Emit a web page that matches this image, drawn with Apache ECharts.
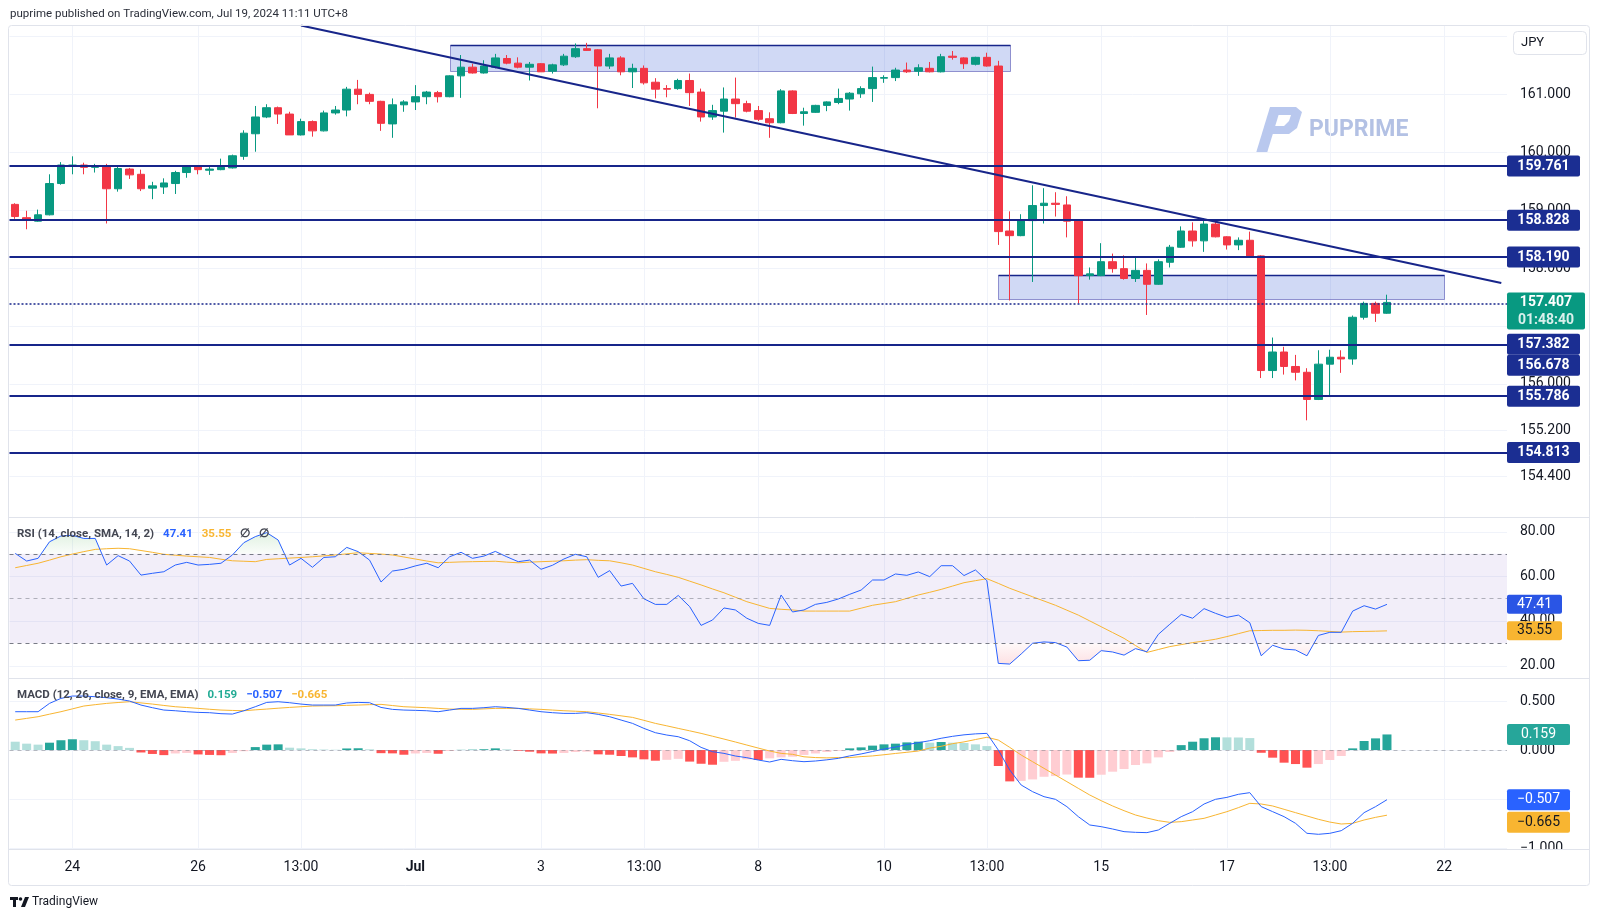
<!DOCTYPE html>
<html><head><meta charset="utf-8">
<script src="https://cdn.jsdelivr.net/npm/echarts@6/dist/echarts.min.js"></script>
<style>html,body{margin:0;padding:0;background:#fff;}#c{width:1600px;height:919px;}</style>
</head><body><div id="c"></div>
<script>
// ---------------- DATA ----------------
const H6 = ['01','05','09','13','17','21'];
const H5 = ['05','09','13','17','21'];
const sessions = [
  ['2024-06-21',['09','13','17','21']],['2024-06-22',['01']],
  ['2024-06-24',H5],['2024-06-25',H6],['2024-06-26',H6],['2024-06-27',H6],['2024-06-28',H6],['2024-06-29',['01']],
  ['2024-07-01',H5],['2024-07-02',H6],['2024-07-03',H6],['2024-07-04',H6],['2024-07-05',H6],['2024-07-06',['01']],
  ['2024-07-08',H5],['2024-07-09',H6],['2024-07-10',H6],['2024-07-11',H6],['2024-07-12',H6],['2024-07-13',['01']],
  ['2024-07-15',H5],['2024-07-16',H6],['2024-07-17',H6],['2024-07-18',H6],['2024-07-19',H6],['2024-07-20',['01']],
  ['2024-07-22',H5],['2024-07-23',['01']]
];
const categories = [];
sessions.forEach(s => s[1].forEach(h => categories.push(s[0] + ' ' + h + ':00')));

const tickCats = ['2024-06-24 05:00','2024-06-26 01:00','2024-06-27 13:00','2024-07-01 05:00','2024-07-03 01:00','2024-07-04 13:00','2024-07-08 05:00','2024-07-10 01:00','2024-07-11 13:00','2024-07-15 05:00','2024-07-17 01:00','2024-07-18 13:00','2024-07-22 05:00'];
const tickTexts = ['24','26','13:00','Jul','3','13:00','8','10','13:00','15','17','13:00','22'];

const opens = [159.10,158.87,158.81,158.92,159.46,159.76,159.78,159.74,159.77,159.37,159.71,159.62,159.38,159.40,159.46,159.65,159.76,159.69,159.70,159.73,
159.93,160.32,160.61,160.77,160.66,160.30,160.53,160.37,160.68,160.73,161.09,161.00,160.88,160.49,160.82,160.87,160.96,161.03,160.96,161.32,
161.47,161.37,161.47,161.62,161.54,161.47,161.53,161.40,161.51,161.65,161.79,161.77,161.49,161.63,161.39,161.45,161.21,161.10,161.10,161.24,
161.04,160.61,160.71,160.92,160.84,160.72,160.58,160.51,161.06,160.67,160.69,160.81,160.86,160.92,161.01,161.10,161.28,161.29,161.42,161.40,
161.45,161.39,161.66,161.63,161.52,161.64,161.49,158.64,158.56,158.82,159.08,159.12,159.09,158.83,157.87,157.87,158.11,157.99,157.82,157.96,
157.72,158.10,158.36,158.64,158.47,158.76,158.54,158.40,158.48,158.21,156.23,156.55,156.30,156.20,155.73,156.34,156.46,156.43,157.15,157.39,157.22];
const highs = [159.12,158.99,159.01,159.62,159.83,159.93,159.82,159.80,159.80,159.76,159.73,159.70,159.49,159.55,159.68,159.78,159.78,159.76,159.89,159.96,
160.38,160.80,160.83,160.79,160.70,160.58,160.55,160.72,160.80,161.13,161.25,161.03,160.89,160.93,160.90,161.16,161.06,161.06,161.33,161.68,
161.53,161.59,161.70,161.68,161.64,161.56,161.54,161.53,161.70,161.88,161.89,161.78,161.70,161.66,161.53,161.50,161.28,161.16,161.27,161.36,
161.10,160.82,161.12,161.29,160.89,160.80,160.69,161.09,161.07,160.77,160.82,160.88,161.10,161.04,161.14,161.48,161.33,161.46,161.55,161.52,
161.56,161.70,161.75,161.64,161.65,161.72,161.58,158.98,158.93,159.43,159.38,159.31,159.24,158.84,158.01,158.43,158.25,158.22,158.18,158.08,
158.15,158.40,158.72,158.79,158.86,158.82,158.55,158.53,158.63,158.22,156.80,156.64,156.50,156.27,156.58,156.59,156.58,157.18,157.42,157.42,157.54];
const lows = [158.85,158.67,158.80,158.91,159.44,159.62,159.62,159.65,158.77,159.32,159.54,159.33,159.19,159.28,159.28,159.56,159.62,159.61,159.69,159.72,
159.87,160.01,160.59,160.49,160.30,160.29,160.27,160.36,160.65,160.62,160.83,160.83,160.37,160.25,160.70,160.73,160.83,160.86,160.95,160.94,
161.36,161.36,161.45,161.52,161.45,161.24,161.39,161.36,161.49,161.63,161.75,160.76,161.44,161.33,161.11,161.17,160.93,160.95,161.08,160.80,
160.53,160.56,160.34,160.60,160.69,160.54,160.25,160.50,160.66,160.46,160.68,160.71,160.83,160.72,160.94,160.87,161.20,161.23,161.37,161.32,
161.38,161.38,161.60,161.44,161.50,161.48,158.40,157.44,158.55,157.76,158.77,158.89,158.53,157.39,157.80,157.86,157.92,157.80,157.76,157.19,
157.71,158.01,158.35,158.37,158.28,158.53,158.32,158.31,158.19,156.10,156.10,156.16,156.06,155.37,155.72,155.79,156.19,156.33,157.11,157.07,157.21];
const closes = [158.89,158.83,158.92,159.46,159.78,159.78,159.74,159.77,159.37,159.72,159.61,159.37,159.42,159.47,159.65,159.75,159.70,159.71,159.74,159.94,
160.33,160.61,160.77,160.66,160.30,160.53,160.37,160.68,160.73,161.09,161.00,160.88,160.50,160.82,160.87,160.96,161.04,160.96,161.32,161.47,
161.37,161.49,161.63,161.54,161.47,161.52,161.39,161.51,161.66,161.79,161.76,161.49,161.63,161.39,161.45,161.20,161.09,161.09,161.24,161.03,
160.61,160.72,160.92,160.84,160.71,160.57,160.51,161.06,160.67,160.70,160.81,160.87,160.93,161.02,161.10,161.29,161.29,161.42,161.39,161.46,
161.39,161.65,161.64,161.53,161.64,161.49,158.63,158.56,158.83,159.08,159.12,159.10,158.81,157.87,157.90,158.11,157.99,157.82,157.96,157.72,
158.11,158.36,158.64,158.47,158.76,158.54,158.40,158.48,158.21,156.23,156.55,156.30,156.20,155.73,156.34,156.46,156.43,157.15,157.39,157.22,157.407];

const rsi = [70.2,66.8,68.0,75.4,78.0,78.3,76.9,76.9,65.0,69.2,66.8,60.5,61.3,62.0,65.0,66.2,65.0,65.3,65.8,69.5,
75.0,77.7,79.5,76.2,65.0,68.0,64.0,68.4,68.7,72.9,71.0,67.2,57.4,62.3,63.1,64.6,65.8,63.8,68.7,70.7,
68.0,69.0,71.1,68.7,66.5,67.2,63.1,64.9,67.7,69.8,68.7,59.5,62.5,55.6,56.8,49.9,47.4,47.4,51.4,46.4,
38.0,40.4,45.8,44.9,41.2,38.9,38.0,51.6,44.0,44.9,47.4,48.3,49.8,51.9,53.8,58.3,58.3,61.0,60.4,61.9,
59.8,64.7,64.7,60.3,62.8,58.0,21.0,20.7,25.2,30.0,30.6,30.3,28.3,22.2,22.4,26.7,26.1,24.7,27.6,26.2,
34.0,38.5,42.9,41.2,45.5,43.4,41.6,42.6,39.2,24.4,29.1,27.4,27.0,24.4,33.5,34.9,34.9,44.4,46.8,45.3,47.41];
const rsiMA = [63.8,64.8,65.8,67.2,68.7,69.9,71.0,72.0,72.3,72.5,72.3,71.5,70.7,69.8,69.4,69.0,68.7,68.4,67.6,66.9,
66.7,66.5,67.5,67.8,68.1,68.4,68.7,69.1,69.5,70.0,70.5,70.2,69.9,69.5,68.6,67.7,66.8,66.0,66.2,66.4,
66.5,66.6,66.7,66.3,66.0,66.3,66.5,66.7,66.9,67.2,67.4,67.1,66.9,66.0,65.0,63.5,62.0,60.8,59.5,57.8,
56.1,54.3,52.6,50.6,48.6,47.1,45.6,45.2,44.9,44.4,44.4,44.4,44.4,44.4,45.7,47.0,47.8,48.6,50.1,51.6,
52.8,54.1,55.6,57.1,58.0,58.9,56.8,54.6,52.7,50.8,48.9,47.0,44.8,42.6,40.0,37.4,34.8,32.2,29.0,25.9,
27.2,28.5,29.4,30.3,31.0,31.8,33.0,34.3,35.6,35.7,35.8,35.8,35.9,35.8,35.6,35.3,35.0,35.2,35.3,35.4,35.55];

const macd = [0.391,0.391,0.391,0.476,0.527,0.551,0.551,0.544,0.534,0.520,0.500,0.459,0.432,0.408,0.401,0.391,0.384,0.381,0.371,0.367,
0.401,0.442,0.486,0.493,0.483,0.469,0.459,0.459,0.459,0.480,0.486,0.483,0.435,0.415,0.408,0.405,0.401,0.391,0.408,0.425,
0.425,0.432,0.442,0.435,0.425,0.408,0.391,0.381,0.374,0.374,0.381,0.364,0.340,0.306,0.272,0.221,0.177,0.153,0.136,0.095,
0.027,-0.017,-0.034,-0.061,-0.078,-0.102,-0.122,-0.095,-0.109,-0.119,-0.112,-0.100,-0.085,-0.060,-0.040,-0.015,0.010,0.030,0.055,0.075,
0.095,0.120,0.140,0.155,0.165,0.170,0.000,-0.204,-0.357,-0.425,-0.476,-0.503,-0.578,-0.680,-0.765,-0.782,-0.806,-0.833,-0.840,-0.843,
-0.816,-0.748,-0.680,-0.629,-0.551,-0.503,-0.483,-0.452,-0.435,-0.578,-0.629,-0.680,-0.748,-0.850,-0.860,-0.850,-0.823,-0.748,-0.639,-0.578,-0.507];
const signal = [0.306,0.323,0.340,0.366,0.391,0.420,0.449,0.463,0.476,0.485,0.493,0.481,0.469,0.455,0.442,0.434,0.425,0.416,0.408,0.404,
0.401,0.410,0.418,0.427,0.435,0.442,0.449,0.451,0.452,0.456,0.459,0.463,0.466,0.454,0.442,0.437,0.432,0.425,0.418,0.416,
0.415,0.420,0.425,0.425,0.425,0.420,0.415,0.408,0.401,0.396,0.391,0.378,0.364,0.349,0.333,0.303,0.272,0.247,0.221,0.196,
0.170,0.141,0.112,0.082,0.051,0.020,-0.010,-0.034,-0.044,-0.069,-0.077,-0.080,-0.077,-0.077,-0.067,-0.060,-0.048,-0.035,-0.023,-0.010,
0.020,0.038,0.065,0.083,0.107,0.130,0.102,0.027,-0.051,-0.119,-0.187,-0.255,-0.323,-0.391,-0.459,-0.517,-0.571,-0.619,-0.663,-0.694,
-0.721,-0.738,-0.731,-0.714,-0.697,-0.663,-0.629,-0.588,-0.544,-0.551,-0.571,-0.605,-0.639,-0.673,-0.707,-0.735,-0.755,-0.748,-0.714,-0.687,-0.665];
const hist = [0.085,0.065,0.055,0.075,0.100,0.110,0.100,0.090,0.055,0.040,0.022,-0.025,-0.040,-0.052,-0.035,-0.030,-0.045,-0.050,-0.053,-0.030,
-0.012,0.030,0.055,0.058,0.024,0.017,0.008,0.005,0.003,0.016,0.018,0.007,-0.032,-0.034,-0.048,-0.035,-0.030,-0.038,-0.010,0.002,
0.004,0.008,0.017,0.007,-0.007,-0.017,-0.034,-0.036,-0.030,-0.020,-0.017,-0.044,-0.048,-0.061,-0.075,-0.095,-0.109,-0.100,-0.090,-0.118,
-0.140,-0.150,-0.120,-0.110,-0.095,-0.102,-0.085,-0.075,-0.068,-0.050,-0.035,-0.020,-0.008,0.017,0.027,0.045,0.058,0.065,0.078,0.085,
0.075,0.082,0.075,0.072,0.058,0.040,-0.163,-0.320,-0.315,-0.300,-0.273,-0.266,-0.250,-0.282,-0.283,-0.252,-0.221,-0.194,-0.153,-0.136,
-0.075,-0.020,0.050,0.085,0.120,0.130,0.129,0.128,0.122,-0.028,-0.078,-0.129,-0.143,-0.180,-0.143,-0.102,-0.061,0.017,0.092,0.119,0.159];

const levelLines = [159.761, 158.828, 158.190, 156.678, 155.786, 154.813];
const dottedLevel = 157.382;
const levelTags = [159.761, 158.828, 158.190, 157.382, 156.678, 155.786, 154.813];
const countdown = '01:48:40';
const trendStart = [25, 162.19], trendEnd = [130, 157.742];
const boxes = [[38, 161.846, 87, 161.390], [86, 157.873, 125, 157.452]];
const priceTicks = [161, 160, 159, 158, 157, 156, 155.2, 154.4];
const priceGrid = [162, 161, 160, 159, 158, 157, 156, 155.2, 154.4];
const rsiTicks = [80, 60, 40, 20];
const macdTicks = [0.5, 0, -0.5, -1];

// ---------------- STYLE / LAYOUT ----------------
const FONT = 'Roboto, "Liberation Sans", sans-serif';
const UP = '#089981', DOWN = '#f23645', NAVY = '#17258a', TAGNAVY = '#1b2e92';
const BLUE = '#2962ff', ORANGE = '#f8b531';
const GRIDC = '#f0f3fa', BORDER = '#e0e3eb', TXT = '#131722';
const L = 9.5, W = 1497.5;
const last = a => a[a.length - 1];
const mfmt = (v, d) => (v < 0 ? '\u2212' : '') + Math.abs(v).toFixed(d);
const near = (list, v) => list.find(p => Math.abs(p - v) < 1e-4);

const chart = echarts.init(document.getElementById('c'), null, {renderer: 'canvas'});

function xAx(gi, showLabels) {
  return {
    type: 'category', gridIndex: gi, data: categories, boundaryGap: true,
    axisLine: {show: false}, axisTick: {show: false}, splitLine: {show: false},
    axisLabel: showLabels ? {
      show: true, color: TXT, fontSize: 14, fontFamily: FONT, margin: 11,
      interval: (idx) => tickCats.indexOf(categories[idx]) >= 0,
      formatter: (val) => { const k = tickCats.indexOf(val); const t = k >= 0 ? tickTexts[k] : ''; return t === 'Jul' ? '{b|Jul}' : t; },
      rich: {b: {fontWeight: 'bold', fontSize: 14, fontFamily: FONT, color: TXT}}
    } : {show: false}
  };
}
function yAx(gi, min, max, interval, labelFn) {
  return {
    type: 'value', gridIndex: gi, position: 'right', min, max, interval,
    axisLine: {show: false}, axisTick: {show: false}, splitLine: {show: false},
    axisLabel: labelFn ? {show: true, color: TXT, fontSize: 14, fontFamily: FONT, margin: 13, formatter: labelFn} : {show: false}
  };
}
function hLines(xi, yi, vals) {
  return {
    type: 'custom', xAxisIndex: xi, yAxisIndex: yi, silent: true, z: 0,
    data: vals.map(v => [0, v]),
    renderItem(params, api) {
      const cs = params.coordSys;
      const y = Math.round(api.coord([0, api.value(1)])[1]) + 0.5;
      return {type: 'line', shape: {x1: cs.x, y1: y, x2: cs.x + cs.width, y2: y}, style: {stroke: GRIDC, lineWidth: 1}};
    }
  };
}
function vLines() {
  return {
    type: 'custom', xAxisIndex: 0, yAxisIndex: 0, silent: true, z: 0, clip: false,
    data: tickCats.map(c => [c, 158]),
    renderItem(params, api) {
      const x = Math.round(api.coord([api.value(0), 158])[0]) + 0.5;
      return {type: 'line', shape: {x1: x, y1: 26, x2: x, y2: 849}, style: {stroke: GRIDC, lineWidth: 1}};
    }
  };
}
function boxSeries() {
  return {
    type: 'custom', xAxisIndex: 0, yAxisIndex: 0, silent: true, z: 2,
    encode: {x: [0, 2], y: [1, 3]},
    data: boxes,
    renderItem(params, api) {
      const p1 = api.coord([api.value(0), api.value(1)]);
      const p2 = api.coord([api.value(2), api.value(3)]);
      const x = Math.round(p1[0]) + 0.5, y = Math.round(p1[1]) + 0.5;
      const w = Math.round(p2[0] - p1[0]), h = Math.round(p2[1] - p1[1]);
      return {type: 'group', children: [
        {type: 'rect', shape: {x, y, width: w, height: h}, style: {fill: 'rgba(41,82,210,0.22)', stroke: 'rgba(95,95,185,0.65)', lineWidth: 1}},
        {type: 'line', shape: {x1: x, y1: y, x2: x + w, y2: y}, style: {stroke: NAVY, lineWidth: 1.5}}
      ]};
    }
  };
}
function tagSeries(xi, yi, tags) {
  return {
    type: 'custom', xAxisIndex: xi, yAxisIndex: yi, silent: true, z: 20, clip: false,
    data: tags.map(t => [0, t.value]),
    renderItem(params, api) {
      const t = tags[params.dataIndex];
      const cs = params.coordSys;
      const y0 = api.coord([0, api.value(1)])[1] + (t.dy || 0);
      const x0 = cs.x + cs.width;
      const up = t.up != null ? t.up : t.h / 2;
      const ch = [{type: 'rect', shape: {x: x0, y: y0 - up, width: t.w, height: t.h, r: 2}, style: {fill: t.bg}}];
      t.lines.forEach((ln, k) => ch.push({type: 'text', x: x0 + t.w / 2, y: y0 + k * (t.lh || 0),
        style: {text: ln, align: 'center', verticalAlign: 'middle', fill: (t.fg[k] || t.fg[0]), font: t.font}}));
      return {type: 'group', children: ch};
    }
  };
}

const tagShift = {157.382: 40.5, 156.678: 20.6};
const mainTags = levelTags.map(v => ({value: v, dy: tagShift[v] || 0, w: 73, h: 21, bg: TAGNAVY, fg: ['#ffffff'],
  font: 'bold 14px ' + FONT, lines: [v.toFixed(3)]}));
mainTags.push({value: last(closes), w: 78, h: 37, up: 10, lh: 18, bg: UP, fg: ['#ffffff', 'rgba(255,255,255,0.85)'],
  font: 'bold 14px ' + FONT, lines: [last(closes).toFixed(3), countdown]});
const rsiTags = [
  {value: last(rsi), w: 55, h: 19, bg: '#2a55e5', fg: ['#ffffff'], font: '14px ' + FONT, lines: [last(rsi).toFixed(2)]},
  {value: last(rsiMA), w: 55, h: 19, bg: ORANGE, fg: [TXT], font: '14px ' + FONT, lines: [last(rsiMA).toFixed(2)]}
];
const macdTags = [
  {value: last(hist), w: 63, h: 21, bg: '#26a69a', fg: ['#ffffff'], font: '14px ' + FONT, lines: [mfmt(last(hist), 3)]},
  {value: last(macd), w: 63, h: 21, bg: BLUE, fg: ['#ffffff'], font: '14px ' + FONT, lines: [mfmt(last(macd), 3)]},
  {value: last(signal), dy: 7, w: 63, h: 21, bg: ORANGE, fg: [TXT], font: '14px ' + FONT, lines: [mfmt(last(signal), 3)]}
];

const histColor = (i) => {
  const h = hist[i], p = i ? hist[i - 1] : h + 0.01;
  if (h >= 0) return h > p ? '#26a69a' : '#b2dfdb';
  return h < p ? '#ff5252' : '#ffcdd2';
};

const candleData = opens.map((o, i) => [o, closes[i], lows[i], highs[i]]);
const C = i => categories[i];

const option = {
  animation: false,
  backgroundColor: '#ffffff',
  textStyle: {fontFamily: FONT},
  grid: [
    {left: L, width: W, top: 25.5, height: 491.5, outerBoundsMode: 'none'},
    {left: L, width: W, top: 518.1, height: 158.7, outerBoundsMode: 'none'},
    {left: L, width: W, top: 518.1, height: 35.76, outerBoundsMode: 'none'},
    {left: L, width: W, top: 643.27, height: 33.53, outerBoundsMode: 'none'},
    {left: L, width: W, top: 678.5, height: 170.5, outerBoundsMode: 'none'}
  ],
  xAxis: [xAx(0, false), xAx(1, false), xAx(2, false), xAx(3, false), xAx(4, true)],
  yAxis: [
    yAx(0, 153.7, 162.19, 0.1, v => { const t = near(priceTicks, v); return t === undefined ? '' : t.toFixed(3); }),
    yAx(1, 15, 86, 5, v => { const t = near(rsiTicks, v); return t === undefined ? '' : t.toFixed(2); }),
    yAx(2, 70, 86, 2, null),
    yAx(3, 15, 30, 5, null),
    yAx(4, -1.01, 0.73, 0.01, v => { const t = near(macdTicks, v); return t === undefined ? '' : mfmt(t, 3); })
  ],
  title: [
    {text: '{t|RSI (14, close, SMA, 14, 2)}  {b|' + last(rsi).toFixed(2) + '}  {o|' + last(rsiMA).toFixed(2) + '}  {g|\u2205}  {g|\u2205}',
     left: 17, top: 525, padding: 0,
     textStyle: {rich: {t: {color: '#434651', fontSize: 11.5, fontFamily: FONT}, b: {color: BLUE, fontSize: 11.5, fontFamily: FONT},
       o: {color: ORANGE, fontSize: 11.5, fontFamily: FONT}, g: {color: '#434651', fontSize: 11.5, fontFamily: FONT}}}},
    {text: '{t|MACD (12, 26, close, 9, EMA, EMA)}  {h|' + mfmt(last(hist), 3) + '}  {b|' + mfmt(last(macd), 3) + '}  {o|' + mfmt(last(signal), 3) + '}',
     left: 17, top: 686, padding: 0,
     textStyle: {rich: {t: {color: '#434651', fontSize: 11.5, fontFamily: FONT}, h: {color: '#22ab94', fontSize: 11.5, fontFamily: FONT},
       b: {color: BLUE, fontSize: 11.5, fontFamily: FONT}, o: {color: ORANGE, fontSize: 11.5, fontFamily: FONT}}}}
  ],
  graphic: [
    {type: 'rect', shape: {x: 1508, y: 850, width: 81, height: 12}, style: {fill: '#ffffff'}, z: 100, silent: true},
    {type: 'rect', shape: {x: 8.5, y: 25.5, width: 1581, height: 860, r: 3}, style: {fill: 'none', stroke: BORDER, lineWidth: 1}, z: 101, silent: true},
    {type: 'line', shape: {x1: 8.5, y1: 517.5, x2: 1589.5, y2: 517.5}, style: {stroke: BORDER, lineWidth: 1}, z: 101, silent: true},
    {type: 'line', shape: {x1: 8.5, y1: 678.5, x2: 1589.5, y2: 678.5}, style: {stroke: BORDER, lineWidth: 1}, z: 101, silent: true},
    {type: 'line', shape: {x1: 8.5, y1: 849.5, x2: 1589.5, y2: 849.5}, style: {stroke: BORDER, lineWidth: 1}, z: 101, silent: true},
    {type: 'text', x: 10, y: 14, style: {text: 'puprime published on TradingView.com, Jul 19, 2024 11:11 UTC+8', fill: '#2a2e39', font: '11.5px ' + FONT, verticalAlign: 'middle'}},
    {type: 'rect', shape: {x: 1513.5, y: 31.5, width: 73, height: 23, r: 4}, style: {fill: '#ffffff', stroke: BORDER, lineWidth: 1}, z: 30},
    {type: 'text', x: 1521, y: 43, z: 31, style: {text: 'JPY', fill: TXT, font: '13px ' + FONT, verticalAlign: 'middle'}},
    {type: 'polygon', shape: {points: [[1256, 153], [1267, 153], [1281, 107], [1270, 107]]}, style: {fill: '#b9c8ee'}},
    {type: 'polygon', shape: {points: [[1274, 107], [1296, 107], [1302, 112], [1297, 128], [1289, 134], [1268, 134], [1271, 126], [1284, 126], [1289, 121], [1291, 115], [1272, 115]]}, style: {fill: '#b9c8ee'}},
    {type: 'text', x: 1309, y: 130, style: {text: 'PUPRIME', fill: '#b3c1e4', font: 'bold 23px ' + FONT, verticalAlign: 'middle'}},
    {type: 'rect', shape: {x: 10, y: 897, width: 8, height: 3}, style: {fill: '#131722'}},
    {type: 'rect', shape: {x: 13, y: 897, width: 3, height: 10}, style: {fill: '#131722'}},
    {type: 'circle', shape: {cx: 20.5, cy: 899, r: 1.8}, style: {fill: '#131722'}},
    {type: 'polygon', shape: {points: [[21, 907], [25, 897], [29, 897], [25, 907]]}, style: {fill: '#131722'}},
    {type: 'text', x: 32, y: 902, style: {text: 'TradingView', fill: TXT, font: '12px ' + FONT, verticalAlign: 'middle'}}
  ],
  series: [
    vLines(),
    hLines(0, 0, priceGrid),
    hLines(1, 1, rsiTicks),
    hLines(4, 4, macdTicks),
    boxSeries(),
    {
      type: 'candlestick', xAxisIndex: 0, yAxisIndex: 0, data: candleData, barWidth: 8, z: 3, silent: true,
      itemStyle: {color: UP, color0: DOWN, borderColor: UP, borderColor0: DOWN, borderWidth: 1},
      markLine: {
        silent: true, symbol: ['none', 'none'], label: {show: false},
        lineStyle: {color: NAVY, width: 2, type: 'solid'},
        data: levelLines.map(v => ({yAxis: v})).concat([
          {yAxis: dottedLevel, lineStyle: {color: NAVY, width: 1.5, type: [2, 2]}}
        ])
      }
    },
    {
      type: 'line', xAxisIndex: 0, yAxisIndex: 0, z: 6, silent: true, symbol: 'none',
      data: [[C(trendStart[0]), trendStart[1]], [C(trendEnd[0]), trendEnd[1]]],
      lineStyle: {color: NAVY, width: 2}
    },
    tagSeries(0, 0, mainTags),
    // RSI
    {
      type: 'line', xAxisIndex: 1, yAxisIndex: 1, data: rsi, symbol: 'none', z: 4, silent: true,
      lineStyle: {color: BLUE, width: 1},
      markArea: {silent: true, itemStyle: {color: 'rgba(126,87,194,0.1)'}, data: [[{yAxis: 70}, {yAxis: 30}]]},
      markLine: {
        silent: true, symbol: ['none', 'none'], label: {show: false},
        lineStyle: {color: '#787b86', width: 1, type: [4, 4]},
        data: [{yAxis: 70}, {yAxis: 50, lineStyle: {color: 'rgba(120,123,134,0.55)', type: [4, 4]}}, {yAxis: 30}]
      }
    },
    {type: 'line', xAxisIndex: 1, yAxisIndex: 1, data: rsiMA, symbol: 'none', z: 3, silent: true, lineStyle: {color: ORANGE, width: 1}},
    {
      type: 'line', xAxisIndex: 2, yAxisIndex: 2, data: rsi, symbol: 'none', z: 2, silent: true,
      lineStyle: {width: 0, opacity: 0},
      areaStyle: {origin: 'start', color: {type: 'linear', x: 0, y: 518, x2: 0, y2: 554, global: true,
        colorStops: [{offset: 0, color: 'rgba(76,175,80,0.38)'}, {offset: 1, color: 'rgba(76,175,80,0.04)'}]}}
    },
    {
      type: 'line', xAxisIndex: 3, yAxisIndex: 3, data: rsi, symbol: 'none', z: 2, silent: true,
      lineStyle: {width: 0, opacity: 0},
      areaStyle: {origin: 'end', color: {type: 'linear', x: 0, y: 643, x2: 0, y2: 677, global: true,
        colorStops: [{offset: 0, color: 'rgba(242,54,69,0.04)'}, {offset: 1, color: 'rgba(242,54,69,0.32)'}]}}
    },
    tagSeries(1, 1, rsiTags),
    // MACD
    {
      type: 'bar', xAxisIndex: 4, yAxisIndex: 4, barWidth: 9, z: 2, silent: true,
      data: hist.map((h, i) => ({value: h, itemStyle: {color: histColor(i)}})),
      markLine: {
        silent: true, symbol: ['none', 'none'], label: {show: false},
        lineStyle: {color: 'rgba(120,123,134,0.5)', width: 1, type: [4, 4]},
        data: [{yAxis: 0}]
      }
    },
    {type: 'line', xAxisIndex: 4, yAxisIndex: 4, data: macd, symbol: 'none', z: 4, silent: true, lineStyle: {color: BLUE, width: 1}},
    {type: 'line', xAxisIndex: 4, yAxisIndex: 4, data: signal, symbol: 'none', z: 3, silent: true, lineStyle: {color: ORANGE, width: 1}},
    tagSeries(4, 4, macdTags)
  ]
};
chart.setOption(option);
</script></body></html>
